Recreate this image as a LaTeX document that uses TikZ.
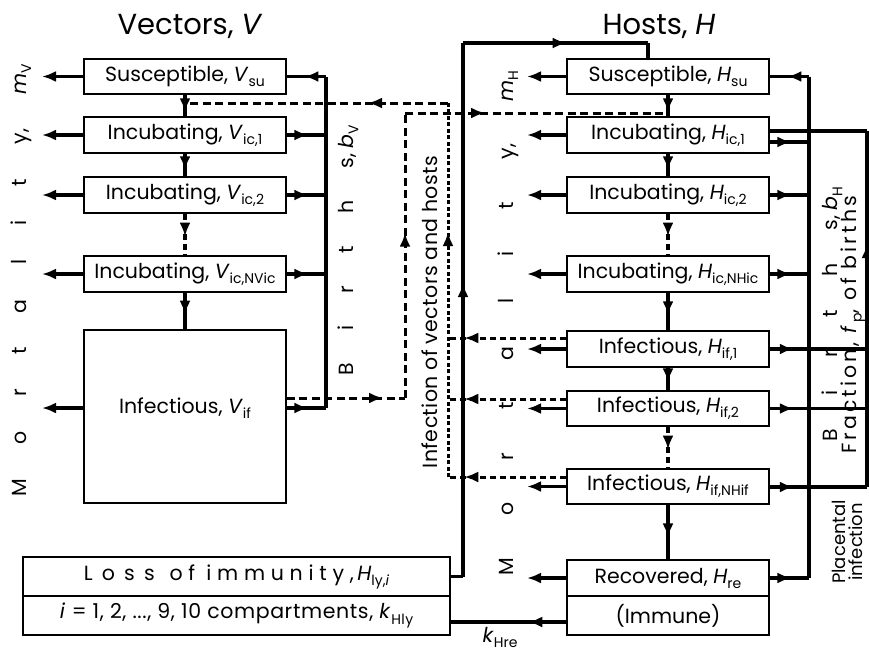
\documentclass[tikz,border=0pt]{standalone}
\usepackage{fontspec}
\setmainfont{Poppins}
\usetikzlibrary{arrows.meta,decorations.markings}
\newcommand\sbx[1]{\raisebox{-0.45ex}{\fontsize{14}{14}\selectfont #1}}
\newcommand\boxfont{\fontsize{20.5}{23}\selectfont}
\newcommand\titlefont{\fontsize{29}{32}\selectfont}
\tikzset{
  box/.style={draw, line width=1.5pt, minimum width=202pt, inner sep=0pt, font=\boxfont},
  conn/.style={line width=3.3pt},
  tip/.style={-{Latex[length=14pt,width=11pt]}},
  arrowat/.style={postaction={decorate}, decoration={markings, mark=at position #1 with {\arrow{Latex[length=14pt,width=11pt]}}}},
  dashl/.style={line width=3pt, dash pattern=on 8pt off 4.5pt},
  dashs/.style={line width=3pt, dash pattern=on 6pt off 4pt},
  dotl/.style={line width=3pt, dash pattern=on 4pt off 2.5pt},
  lbl/.style={inner sep=0pt, font=\boxfont},
}
\begin{document}
\begin{tikzpicture}[x=1pt,y=-1pt]
\useasboundingbox (0,0) rectangle (869,651);
% titles
\node[lbl, font=\titlefont] (tv) at (190,26) {Vectors, \textit{V}};
\node[lbl, font=\titlefont] (th) at (659,26) {Hosts, \textit{H}};
% vector boxes
\node[box, minimum height=35pt] (vsu) at (185,76.5) {Susceptible, \textit{V}\sbx{su}};
\node[box, minimum height=36pt] (vic1) at (185,135) {Incubating, \textit{V}\sbx{ic,1}};
\node[box, minimum height=36pt] (vic2) at (185,195) {Incubating, \textit{V}\sbx{ic,2}};
\node[box, minimum height=36pt] (vicn) at (185,274) {Incubating, \textit{V}\sbx{ic,NVic}};
\node[box, minimum height=173pt] (vif) at (185,416.5) {};
\node[lbl] (vift) at (185,408) {Infectious, \textit{V}\sbx{if}};
% host boxes
\node[box, minimum height=35pt] (hsu) at (668,76.5) {Susceptible, \textit{H}\sbx{su}};
\node[box, minimum height=36pt] (hic1) at (668,135) {Incubating, \textit{H}\sbx{ic,1}};
\node[box, minimum height=36pt] (hic2) at (668,195) {Incubating, \textit{H}\sbx{ic,2}};
\node[box, minimum height=36pt] (hicn) at (668,274) {Incubating, \textit{H}\sbx{ic,NHic}};
\node[box, minimum height=36pt] (hif1) at (668,349) {Infectious, \textit{H}\sbx{if,1}};
\node[box, minimum height=35pt] (hif2) at (668,408.5) {Infectious, \textit{H}\sbx{if,2}};
\node[box, minimum height=35pt] (hifn) at (668,486.5) {Infectious, \textit{H}\sbx{if,NHif}};
\node[box, minimum height=36pt] (hre) at (668,578) {Recovered, \textit{H}\sbx{re}};
\node[box, minimum height=39pt] (himm) at (668,615.5) {(Immune)};
% loss of immunity
\node[box, minimum width=427pt, minimum height=39pt] (loss) at (236.5,576.5) {{\addfontfeature{LetterSpace=45}Loss\ }{\addfontfeature{LetterSpace=28}of immunity,}\,\textit{H}\sbx{ly,\textit{i}}};
\node[box, minimum width=427pt, minimum height=39pt] (lossb) at (236.5,615.5) {\addfontfeature{LetterSpace=3}\textit{i} = 1, 2, ..., 9, 10 compartments, \textit{k}\sbx{Hly}};
% vector chain
\draw[conn, arrowat=-4pt] (vsu) -- (vic1);
\draw[conn, arrowat=-6pt] (vic1) -- (vic2);
\draw[conn, dash pattern=on 6pt off 4pt, arrowat=0.55] (vic2) -- (vicn);
\draw[conn, arrowat=0.6] (vicn) -- (vif);
% host chain
\draw[conn, arrowat=-4pt] (hsu) -- (hic1);
\draw[conn, arrowat=-6pt] (hic1) -- (hic2);
\draw[conn, dash pattern=on 6pt off 4pt, arrowat=0.55] (hic2) -- (hicn);
\draw[conn, arrowat=0.6] (hicn) -- (hif1);
\draw[conn, arrowat=0.65] (hif1) -- (hif2);
\draw[conn, dash pattern=on 6pt off 4pt, arrowat=0.55] (hif2) -- (hifn);
\draw[conn, arrowat=0.6] (hifn) -- (hre);
% mortality
\foreach \n/\yy in {vsu/76.5,vic1/135,vic2/195,vicn/274,vif/408} {
  \coordinate (mv-\n) at (42,\yy);
  \draw[conn,tip] (\n.west |- mv-\n) -- (mv-\n);
}
\foreach \n/\yy in {hsu/76.5,hic1/135,hic2/195,hicn/274,hif1/349,hif2/408.5,hifn/486.5,hre/578} {
  \coordinate (mh-\n) at (527,\yy);
  \draw[conn,tip] (\n.west |- mh-\n) -- (mh-\n);
}
% births vectors
\coordinate (bvt) at (326,76.5);
\coordinate (bvb) at (326,408);
\draw[conn, arrowat=0.55] (vif.east |- bvb) -- (bvb);
\draw[conn] (bvb) -- (bvt);
\draw[conn, arrowat=0.55] (bvt) -- (vsu.east);
\foreach \n in {vic1,vic2,vicn} { \draw[conn, arrowat=0.55] (\n.east) -- (\n.east -| bvt); }
% infection path from vectors
\coordinate (d1a) at (405,398);
\coordinate (d1b) at (405,113);
\draw[dashl, arrowat=-22pt] (vif.east |- d1a) -- (d1a);
\draw[dashl, arrowat=0.58] (d1a) -- (d1b);
\draw[dashl, arrowat=80pt] (d1b) -- (hsu.south |- d1b);
% infection path from hosts
\coordinate (d2t) at (448,103);
\coordinate (d2b) at (448,477);
\foreach \n/\yy in {hif1/338,hif2/399,hifn/477} {
  \coordinate (dh-\n) at (448,\yy);
  \draw[dashs, arrowat=102pt] (\n.west |- dh-\n) -- (dh-\n);
}
\draw[dotl, arrowat=0.655] (d2b) -- (d2t);
\draw[dashl, arrowat=80pt] (d2t) -- (vsu.south |- d2t);
% loss of immunity back to susceptible
\coordinate (ta) at (463,576.5);
\coordinate (tb) at (463,43);
\coordinate (tc) at (648,43);
\draw[conn] (loss.east |- ta) -- (ta);
\draw[conn, arrowat=0.55] (ta) -- (tb);
\draw[conn, arrowat=0.56] (tb) -- (tc);
\draw[conn] (tc) -- (hsu.north -| tc);
% recovered to loss of immunity
\coordinate (kl) at (450,622);
\draw[conn, arrowat=38pt] (himm.west |- kl) -- (kl);
\node[lbl] (khre) at (500,637) {\textit{k}\sbx{Hre}};
% births hosts
\coordinate (bht) at (809,76.5);
\coordinate (bhb) at (809,578);
\draw[conn, arrowat=0.55] (bht) -- (hsu.east);
\draw[conn] (bht) -- (bhb);
\foreach \n/\yy in {hic1/142,hic2/195,hicn/274,hre/578} {
  \coordinate (bh-\n) at (809,\yy);
  \draw[conn, arrowat=0.55] (\n.east |- bh-\n) -- (bh-\n);
}
\foreach \n/\yy in {hif1/349,hif2/408.5,hifn/487} {
  \coordinate (pl-\n) at (867,\yy);
  \draw[conn, arrowat=24pt] (\n.east |- pl-\n) -- (pl-\n);
}
\coordinate (plt) at (867,131);
\draw[conn] (hic1.east |- plt) -- (plt);
\draw[conn, arrowat=243pt] (pl-hifn) -- (plt);
% rotated labels
\node[lbl, rotate=90] (mortv) at (21,280) {\makebox[432pt]{M\hfill o\hfill r\hfill t\hfill a\hfill l\hfill i\hfill t\hfill y,\hfill \textit{m}\sbx{V}}};
\node[lbl, rotate=90] (morth) at (508,323) {\makebox[505pt]{M\hfill o\hfill r\hfill t\hfill a\hfill l\hfill i\hfill t\hfill y,\hfill \textit{m}\sbx{H}}};
\node[lbl, rotate=90] (birv) at (348,250) {\makebox[250pt]{B\hfill i\hfill r\hfill t\hfill h\hfill s, \textit{b}\sbx{V}}};
\node[lbl, rotate=90] (birh) at (832,314) {\makebox[255pt]{B\hfill i\hfill r\hfill t\hfill h\hfill s, \textit{b}\sbx{H}}};
\node[lbl, rotate=90] (frac) at (853,325) {\addfontfeature{LetterSpace=15}Fraction, \textit{f}\sbx{p}, of births};
\node[lbl, rotate=90, align=center, font=\fontsize{18}{17}\selectfont] (plac) at (847,542) {Placental\\infection};
\node[lbl, rotate=90] (infvh) at (430,312) {\addfontfeature{LetterSpace=2}Infection of vectors and hosts};
\end{tikzpicture}
\end{document}
